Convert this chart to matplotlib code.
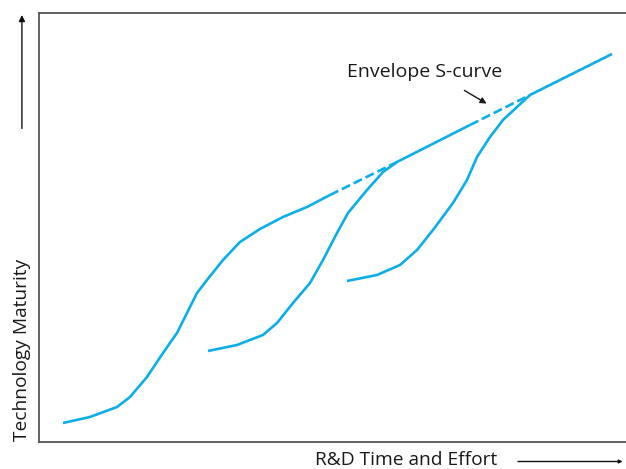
import matplotlib.pyplot as plt
from matplotlib.patches import FancyArrowPatch

# curve values (x = effort, y = maturity)
curve1_x = [24, 51, 78, 91, 108, 124, 138, 148, 158, 168, 184, 201, 221, 244, 268, 291]
curve1_y = [19, 25, 35, 45, 65, 89, 109, 129, 149, 162, 182, 200, 213, 225, 235, 247]

curve2_x = [169, 198, 224, 238, 254, 271, 284, 298, 309, 328, 344, 358, 431]
curve2_y = [91, 97, 107, 119, 139, 159, 182, 209, 229, 252, 270, 280, 317]

curve3_x = [308, 338, 361, 378, 394, 414, 428, 438, 451, 464, 478, 491, 573]
curve3_y = [161, 167, 177, 192, 212, 239, 262, 285, 305, 322, 335, 347, 388]

# dashed envelope gaps
gap1_x = [291, 358]
gap1_y = [247, 280]
gap2_x = [431, 491]
gap2_y = [317, 347]

blue = '#0AAEE8'
ink = '#1a1a1a'
font = 'Open Sans'

fig = plt.figure(figsize=(6.26, 4.69), dpi=100)
ax = fig.add_axes([0.0623, 0.0576, 0.9377, 0.9147])

for xs, ys in [(curve1_x, curve1_y), (curve2_x, curve2_y), (curve3_x, curve3_y)]:
    ax.plot(xs, ys, color=blue, lw=1.9, solid_joinstyle='round', solid_capstyle='butt')
for xs, ys in [(gap1_x, gap1_y), (gap2_x, gap2_y)]:
    ax.plot(xs, ys, color=blue, lw=1.9, ls=(0, (3.5, 1.5)))

ax.annotate('', xy=(450, 337), xytext=(423, 353),
            arrowprops=dict(arrowstyle='-|>', color=ink, lw=1, mutation_scale=9))
ax.text(386, 370, 'Envelope S-curve', ha='center', va='center',
        fontsize=14, family=font, color=ink)

ax.set_xlim(0, 587)
ax.set_ylim(0, 429)
ax.set_xticks([])
ax.set_yticks([])
ax.spines['right'].set_visible(False)
for s in ['left', 'top', 'bottom']:
    ax.spines[s].set_color('#555555')
    ax.spines[s].set_linewidth(1.3)

# axis labels with arrows
fig.text(0.035, 0.254, 'Technology Maturity', rotation=90, ha='center', va='center',
         fontsize=13.8, family=font, color=ink)
fig.text(0.649, 0.02, 'R&D Time and Effort', ha='center', va='center',
         fontsize=13.8, family=font, color=ink)
fig.add_artist(FancyArrowPatch(
    (0.035, 0.72), (0.035, 0.974), transform=fig.transFigure,
    arrowstyle='-|>', mutation_scale=9, lw=1, color='#111111'))
fig.add_artist(FancyArrowPatch(
    (0.823, 0.016), (0.999, 0.016), transform=fig.transFigure,
    arrowstyle='-|>', mutation_scale=5, lw=1, color='#111111'))

fig.savefig('out.png', dpi=100)
